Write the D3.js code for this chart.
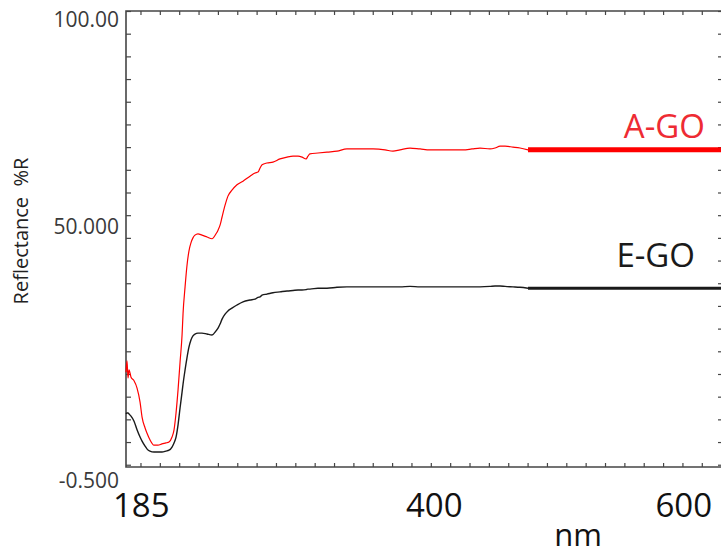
<!DOCTYPE html>
<html>
<head>
<meta charset="utf-8">
<script src="https://cdn.jsdelivr.net/npm/d3@7/dist/d3.min.js"></script>
<style>
  html, body { margin: 0; padding: 0; background: #fff; }
  svg { display: block; font-family: "Open Sans", "Noto Sans", sans-serif; }
</style>
</head>
<body>
<svg id="chart" width="721" height="554"></svg>
<script>
// ---- data ----
const wavelength = [185.0,185.7,186.4,187.1,188.5,190.6,192.7,194.8,196.2,198.3,
  199.6,201.7,204.5,207.3,210.1,212.9,215.0,217.1,218.5,219.9,
  221.3,222.7,224.1,224.8,226.2,227.5,228.9,230.3,231.7,233.1,
  235.2,238.0,241.5,245.0,247.8,249.2,250.6,252.0,254.1,256.1,
  258.9,262.4,266.6,271.5,275.0,277.1,278.5,279.9,283.3,287.5,
  292.4,297.3,301.5,305.0,307.8,310.6,311.9,313.3,318.9,325.2,
  332.2,339.1,348.2,357.3,365.7,371.2,376.1,383.1,390.1,397.0,
  407.5,420.1,426.3,431.9,438.9,442.4,445.9,449.4,454.9,459.8,
  465.4];
const agoValues = [20.4,22.9,19.1,20.9,19.3,18.5,16.9,13.8,10.5,8.1,
  7.0,5.5,4.3,4.3,4.6,4.8,5.0,6.1,7.7,11.4,
  16.5,22.6,28.6,33.4,39.2,43.8,47.1,48.9,50.0,50.6,
  50.9,50.6,50.2,49.8,50.9,51.7,52.8,54.6,57.2,59.2,
  60.5,61.7,62.5,63.6,64.3,64.5,65.4,66.1,66.5,66.7,
  67.4,67.8,68.0,68.0,67.8,67.4,68.0,68.5,68.7,68.9,
  69.1,69.6,69.6,69.6,69.4,69.1,69.4,69.8,69.6,69.4,
  69.4,69.4,69.6,69.8,69.6,69.8,70.2,70.2,70.0,69.8,
  69.4];
const egoValues = [11.2,11.4,11.4,11.2,10.7,9.6,7.7,6.1,5.2,4.1,
  3.5,3.0,2.8,2.8,2.8,3.0,3.2,3.9,4.8,6.1,
  8.8,12.5,16.0,17.8,20.9,23.5,25.9,27.5,28.4,28.8,
  29.0,29.0,28.8,28.6,29.5,30.1,31.0,32.1,33.2,33.9,
  34.5,35.2,35.9,36.3,36.5,36.9,37.0,37.4,37.6,37.9,
  38.1,38.3,38.4,38.5,38.5,38.6,38.7,38.7,38.9,38.9,
  39.1,39.2,39.2,39.2,39.2,39.2,39.2,39.3,39.2,39.2,
  39.2,39.2,39.2,39.2,39.3,39.4,39.4,39.3,39.2,39.1,
  38.9];
const seriesNames = ["A-GO", "E-GO"];
const seriesColors = ["#ff0000", "#1a1a1a"];
const labelColors = ["#ee2b33", "#1a1a1a"];
const xDomain = [185, 600];
const yDomain = [-0.5, 100];
const xTickValues = [185, 400, 600];
const xTickLabels = ["185", "400", "600"];
const yTickValues = [100, 50, -0.5];
const yTickLabels = ["100.00", "50.000", "-0.500"];
const xTitle = "nm";
const yTitle = "Reflectance  %R";

// ---- layout ----
const L = 126, R = 721, T = 11, B = 467;
const svg = d3.select("#chart");
const x = d3.scaleLinear().domain(xDomain).range([L, R]);
const y = d3.scaleLinear().domain(yDomain).range([B, T]);

const axisColor = "#454545";
const xMinor = d3.range(31).map(k => 195.1 + k * 13.5);
const yMinor = d3.range(0, 101, 5);

function styleAxis(g) {
  g.select(".domain").remove();
  g.selectAll(".tick line").attr("stroke", axisColor).attr("stroke-width", 1.2);
  g.selectAll(".tick text").remove();
}
svg.append("g").attr("transform", `translate(0,${B})`)
  .call(d3.axisTop(x).tickValues(xMinor).tickSize(4).tickFormat("")).call(styleAxis);
svg.append("g").attr("transform", `translate(0,${T})`)
  .call(d3.axisBottom(x).tickValues(xMinor).tickSize(4).tickFormat("")).call(styleAxis);
svg.append("g").attr("transform", `translate(${L},0)`)
  .call(d3.axisRight(y).tickValues(yMinor).tickSize(5).tickFormat("")).call(styleAxis);
svg.append("g").attr("transform", `translate(${R},0)`)
  .call(d3.axisLeft(y).tickValues(yMinor).tickSize(3).tickFormat("")).call(styleAxis);

// frame
svg.append("path")
  .attr("d", `M${R + 1},${T}H${L}V${B}H${R + 1}`)
  .attr("fill", "none").attr("stroke", axisColor).attr("stroke-width", 1.6);

// series
const series = [agoValues, egoValues];
const line = d3.line().x((d, i) => x(wavelength[i])).y(d => y(d)).curve(d3.curveMonotoneX);
series.forEach((vals, s) => {
  svg.append("path").datum(vals).attr("d", line)
    .attr("fill", "none").attr("stroke", seriesColors[s])
    .attr("stroke-width", s === 0 ? 1.2 : 1.4).attr("stroke-linejoin", "round");
  const last = vals[vals.length - 1];
  // thick legend segment extending the final value to the right edge
  svg.append("line")
    .attr("x1", x(wavelength[wavelength.length - 1])).attr("x2", x(xDomain[1]) + 2)
    .attr("y1", y(last)).attr("y2", y(last))
    .attr("stroke", seriesColors[s]).attr("stroke-width", s === 0 ? 5 : 3.2);
});

// legend labels
const legendDx = [-16, -26];
const legendDy = [-12, -21];
series.forEach((vals, s) => {
  const last = vals[vals.length - 1];
  svg.append("text")
    .attr("x", x(xDomain[1]) + legendDx[s]).attr("y", y(last) + legendDy[s])
    .attr("text-anchor", "end").attr("font-size", 33)
    .attr("fill", labelColors[s]).text(seriesNames[s]);
});

// y tick labels
const yLabelDy = [16, -4, 21];
yTickValues.forEach((v, i) => {
  svg.append("text").attr("x", L - 7).attr("y", y(v) + yLabelDy[i])
    .attr("text-anchor", "end").attr("font-size", 21).attr("fill", "#3a3a3a")
    .text(yTickLabels[i]);
});

// x tick labels
const xAnchor = ["start", "middle", "end"];
const xLabelDx = [-13, 0, -9];
xTickValues.forEach((v, i) => {
  svg.append("text").attr("x", x(v) + xLabelDx[i]).attr("y", 517)
    .attr("text-anchor", xAnchor[i]).attr("font-size", 33).attr("fill", "#111")
    .text(xTickLabels[i]);
});

// axis titles
svg.append("text").attr("x", 578).attr("y", 546)
  .attr("text-anchor", "middle").attr("font-size", 31).attr("fill", "#111").text(xTitle);
svg.append("text").attr("transform", "translate(28,231) rotate(-90)")
  .attr("text-anchor", "middle").attr("font-size", 20).attr("fill", "#222")
  .style("white-space", "pre").text(yTitle);
</script>
</body>
</html>
